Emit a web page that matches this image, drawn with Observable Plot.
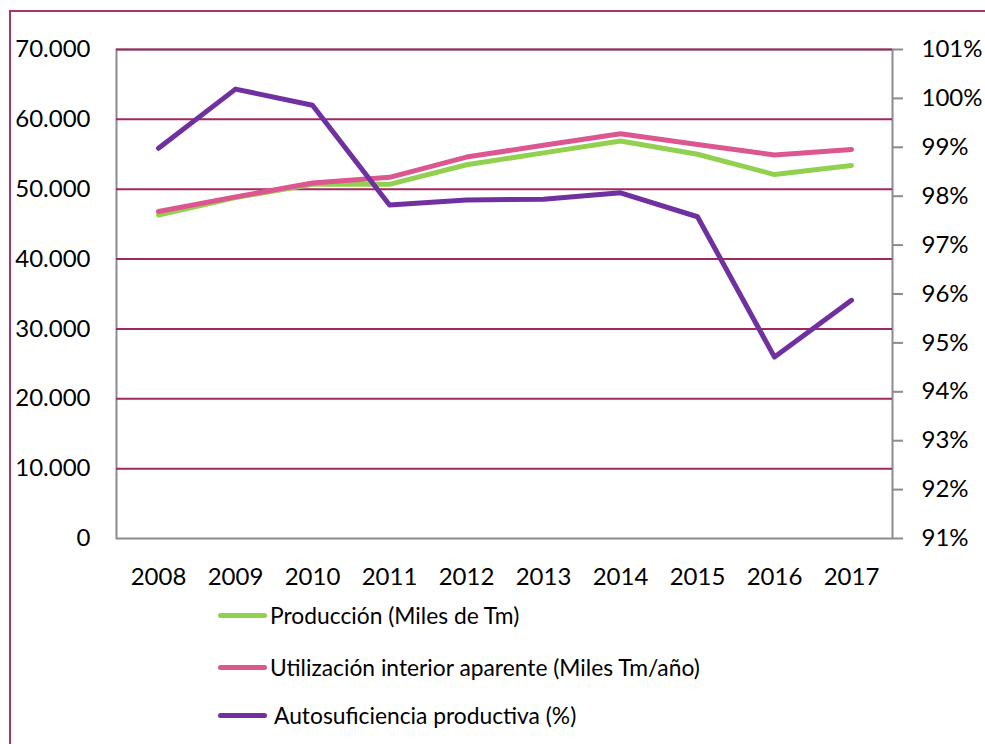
<!DOCTYPE html>
<html>
<head>
<meta charset="utf-8">
<script src="https://cdn.jsdelivr.net/npm/d3@7"></script>
<script src="https://cdn.jsdelivr.net/npm/@observablehq/plot@0.6"></script>
<style>
  html, body { margin: 0; padding: 0; background: #fff; overflow: hidden; }
  #wrap { position: relative; width: 985px; height: 744px; font-family: Lato, "Open Sans", sans-serif; }
  #border { position: absolute; left: 9px; top: 10px; width: 1200px; height: 1000px; border: 2px solid #A8346C; pointer-events: none; }
  #chart { position: absolute; left: 0; top: 0; }
  .leg { position: absolute; left: 218px; display: flex; align-items: center; font-size: 22.8px; color: #000; height: 30px; }
  .leg .sw { width: 49px; height: 5px; border-radius: 3px; margin-right: 3px; }
</style>
</head>
<body>
<div id="wrap">
  <div id="chart"></div>
  <div id="legend"></div>
  <div id="border"></div>
</div>
<script>
const years = ["2008","2009","2010","2011","2012","2013","2014","2015","2016","2017"];
const produccion = [46300, 48800, 50700, 50700, 53500, 55200, 56900, 55000, 52100, 53400];
const utilizacion = [46800, 48900, 50900, 51700, 54600, 56300, 57950, 56400, 54900, 55700];
const autosuficiencia = [98.98, 100.19, 99.86, 97.82, 97.92, 97.94, 98.07, 97.58, 94.71, 95.87];
const leftTicks = [0, 10000, 20000, 30000, 40000, 50000, 60000, 70000];
const rightTicks = [91, 92, 93, 94, 95, 96, 97, 98, 99, 100, 101];
const seriesNames = ["Producción (Miles de Tm)", "Utilización interior aparente (Miles Tm/año)", "Autosuficiencia productiva (%)"];
const colors = ["#92D050", "#DC5690", "#7030A0"];

const gridColor = "#A02860";
const axisGray = "#8C8C8C";
const toLeft = p => (p - 91) / 10 * 70000;
const fromLeft = v => v / 70000 * 10 + 91;
const fmtLeft = v => v === 0 ? "0" : d3.format(",")(v).replace(/,/g, ".");

const rows = [];
years.forEach((y, i) => {
  rows.push({year: y, series: seriesNames[0], v: produccion[i]});
  rows.push({year: y, series: seriesNames[1], v: utilizacion[i]});
  rows.push({year: y, series: seriesNames[2], v: toLeft(autosuficiencia[i])});
});

const chart = Plot.plot({
  width: 985,
  height: 590,
  marginLeft: 116,
  marginRight: 93,
  marginTop: 49,
  marginBottom: 52,
  style: {fontFamily: "Lato, 'Open Sans', sans-serif", fontSize: "24px", color: "#000", background: "transparent", overflow: "visible"},
  x: {type: "point", domain: years, padding: 0.5},
  y: {domain: [0, 70000]},
  marks: [
    Plot.frame({stroke: axisGray, strokeWidth: 2}),
    Plot.gridY(leftTicks.filter(v => v > 0), {stroke: gridColor, strokeOpacity: 1, strokeWidth: 2}),
    Plot.axisY(leftTicks, {anchor: "left", tickSize: 0, tickPadding: 26, tickFormat: fmtLeft, label: null, fill: "#000"}),
    Plot.axisY(rightTicks.map(toLeft), {anchor: "right", tickSize: 10, tickPadding: 19, stroke: axisGray, strokeWidth: 2, fill: "#000", tickFormat: v => Math.round(fromLeft(v)) + "%", label: null}),
    Plot.axisX({tickSize: 0, tickPadding: 29, label: null, fill: "#000"}),
    ...seriesNames.map((s, k) => Plot.line(rows.filter(r => r.series === s), {
      x: "year", y: "v", stroke: colors[k], strokeWidth: 5, strokeLinecap: "round", strokeLinejoin: "round"
    }))
  ]
});
document.getElementById("chart").appendChild(chart);

const legend = document.getElementById("legend");
const legTops = [600, 652, 700];
const legTextShift = [0, 0, 4];
seriesNames.forEach((s, k) => {
  const d = document.createElement("div");
  d.className = "leg";
  d.style.top = legTops[k] + "px";
  const sw = document.createElement("span");
  sw.className = "sw";
  sw.style.background = colors[k];
  sw.style.marginRight = (3 + legTextShift[k]) + "px";
  const t = document.createElement("span");
  t.textContent = s;
  d.appendChild(sw);
  d.appendChild(t);
  legend.appendChild(d);
});
</script>
</body>
</html>
